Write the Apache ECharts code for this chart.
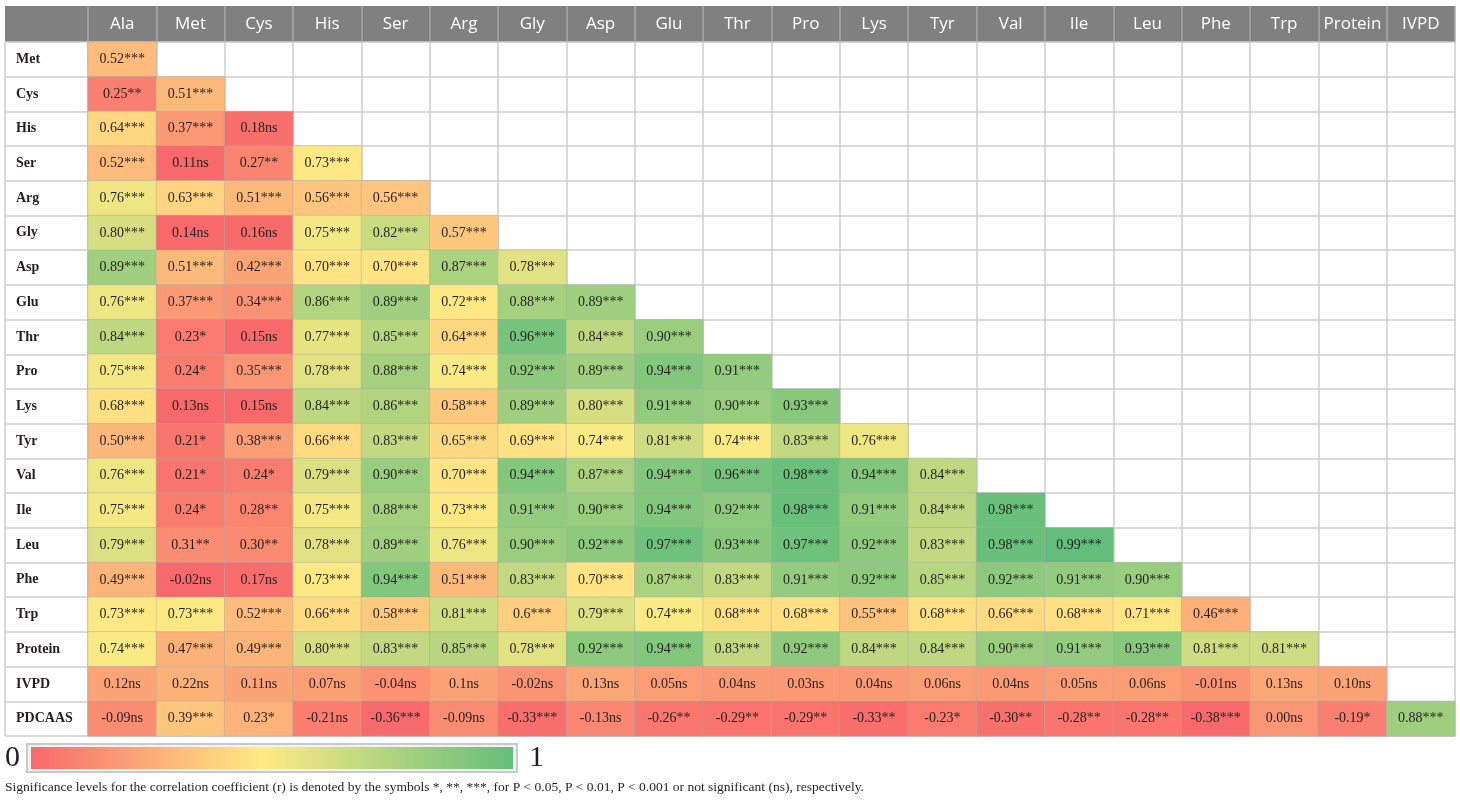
<!DOCTYPE html>
<html>
<head>
<meta charset="utf-8">
<script src="https://cdn.jsdelivr.net/npm/echarts@6/dist/echarts.min.js"></script>
<style>
    html, body { margin: 0; padding: 0; background: #fff; }
    #chart { width: 1460px; height: 801px; }
</style>
</head>
<body>
<div id="chart"></div>
<script>
// Correlation matrix (lower triangle)

const columns = ['Ala', 'Met', 'Cys', 'His', 'Ser', 'Arg', 'Gly', 'Asp', 'Glu', 'Thr',
    'Pro', 'Lys', 'Tyr', 'Val', 'Ile', 'Leu', 'Phe', 'Trp', 'Protein', 'IVPD'];

const rows = ['Met', 'Cys', 'His', 'Ser', 'Arg', 'Gly', 'Asp', 'Glu', 'Thr', 'Pro',
    'Lys', 'Tyr', 'Val', 'Ile', 'Leu', 'Phe', 'Trp', 'Protein', 'IVPD', 'PDCAAS'];

// r value + significance mark, one list per row
const correlations = [
    ['0.52***'],
    ['0.25**', '0.51***'],
    ['0.64***', '0.37***', '0.18ns'],
    ['0.52***', '0.11ns', '0.27**', '0.73***'],
    ['0.76***', '0.63***', '0.51***', '0.56***', '0.56***'],
    ['0.80***', '0.14ns', '0.16ns', '0.75***', '0.82***', '0.57***'],
    ['0.89***', '0.51***', '0.42***', '0.70***', '0.70***', '0.87***', '0.78***'],
    ['0.76***', '0.37***', '0.34***', '0.86***', '0.89***', '0.72***', '0.88***', '0.89***'],
    ['0.84***', '0.23*', '0.15ns', '0.77***', '0.85***', '0.64***', '0.96***', '0.84***', '0.90***'],
    ['0.75***', '0.24*', '0.35***', '0.78***', '0.88***', '0.74***', '0.92***', '0.89***', '0.94***', '0.91***'],
    ['0.68***', '0.13ns', '0.15ns', '0.84***', '0.86***', '0.58***', '0.89***', '0.80***', '0.91***', '0.90***', '0.93***'],
    ['0.50***', '0.21*', '0.38***', '0.66***', '0.83***', '0.65***', '0.69***', '0.74***', '0.81***', '0.74***', '0.83***', '0.76***'],
    ['0.76***', '0.21*', '0.24*', '0.79***', '0.90***', '0.70***', '0.94***', '0.87***', '0.94***', '0.96***', '0.98***', '0.94***', '0.84***'],
    ['0.75***', '0.24*', '0.28**', '0.75***', '0.88***', '0.73***', '0.91***', '0.90***', '0.94***', '0.92***', '0.98***', '0.91***', '0.84***', '0.98***'],
    ['0.79***', '0.31**', '0.30**', '0.78***', '0.89***', '0.76***', '0.90***', '0.92***', '0.97***', '0.93***', '0.97***', '0.92***', '0.83***', '0.98***', '0.99***'],
    ['0.49***', '-0.02ns', '0.17ns', '0.73***', '0.94***', '0.51***', '0.83***', '0.70***', '0.87***', '0.83***', '0.91***', '0.92***', '0.85***', '0.92***', '0.91***', '0.90***'],
    ['0.73***', '0.73***', '0.52***', '0.66***', '0.58***', '0.81***', '0.6***', '0.79***', '0.74***', '0.68***', '0.68***', '0.55***', '0.68***', '0.66***', '0.68***', '0.71***', '0.46***'],
    ['0.74***', '0.47***', '0.49***', '0.80***', '0.83***', '0.85***', '0.78***', '0.92***', '0.94***', '0.83***', '0.92***', '0.84***', '0.84***', '0.90***', '0.91***', '0.93***', '0.81***', '0.81***'],
    ['0.12ns', '0.22ns', '0.11ns', '0.07ns', '-0.04ns', '0.1ns', '-0.02ns', '0.13ns', '0.05ns', '0.04ns', '0.03ns', '0.04ns', '0.06ns', '0.04ns', '0.05ns', '0.06ns', '-0.01ns', '0.13ns', '0.10ns'],
    ['-0.09ns', '0.39***', '0.23*', '-0.21ns', '-0.36***', '-0.09ns', '-0.33***', '-0.13ns', '-0.26**', '-0.29**', '-0.29**', '-0.33**', '-0.23*', '-0.30**', '-0.28**', '-0.28**', '-0.38***', '0.00ns', '-0.19*', '0.88***']
];

const footnote = 'Significance levels for the correlation coefficient (r) is denoted by the symbols *, **, ***, for P < 0.05, P < 0.01, P < 0.001 or not significant (ns), respectively.';

const RED = '#F8696B', YELLOW = '#FFEB84', GREEN = '#63BE7B';
const SERIF = 'Liberation Serif';

function clamp01(t) { return Math.max(0, Math.min(1, t)); }

// 3-colour scale with the yellow at `mid` (like a spreadsheet colour scale)
function ramp(min, mid, max) {
    var out = [];
    for (var i = 0; i <= 40; i++) {
        var v = min + (max - min) * i / 40;
        if (v <= mid) out.push(echarts.color.lerp(clamp01((v - min) / (mid - min)), [RED, YELLOW]));
        else out.push(echarts.color.lerp(clamp01((v - mid) / (max - mid)), [YELLOW, GREEN]));
    }
    return out;
}

function cells(from, to) {
    var data = [];
    for (var r = from; r < to; r++) {
        correlations[r].forEach(function (s, c) {
            data.push({ name: s, value: [c, r, parseFloat(s)] });
        });
    }
    return data;
}

var cellSeries = {
    type: 'heatmap',
    xAxisIndex: 1,
    yAxisIndex: 1,
    label: {
        show: true,
        formatter: function (p) { return p.name; },
        color: '#231f20',
        fontFamily: SERIF,
        fontSize: 14
    },
    itemStyle: { borderColor: 'rgba(170,170,170,0.45)', borderWidth: 1 },
    emphasis: { disabled: true }
};

var grid = { top: 42, bottom: 65 };
var lineStyle = { color: '#cdcdcd', width: 1.5 };

var chart = echarts.init(document.querySelector('#chart'));
chart.setOption({
    animation: false,
    grid: [
        { left: 5, width: 83, top: grid.top, bottom: grid.bottom },
        { left: 88, right: 5, top: grid.top, bottom: grid.bottom }
    ],
    xAxis: [
        {
            gridIndex: 0, type: 'category', data: [''], position: 'top',
            axisLine: { show: false }, axisTick: { show: false }, axisLabel: { show: false },
            splitLine: { show: true, lineStyle: lineStyle }
        },
        {
            gridIndex: 1, type: 'category', data: columns, position: 'top',
            axisLine: { show: false },
            axisTick: { show: true, length: 36, interval: 0, lineStyle: { color: '#a9a9a9', width: 1.5 } },
            axisLabel: { color: '#fff', fontFamily: 'Open Sans', fontSize: 17, margin: 9, interval: 0 },
            splitLine: { show: true, interval: 0, lineStyle: lineStyle }
        }
    ],
    yAxis: [
        {
            gridIndex: 0, type: 'category', data: rows, inverse: true,
            axisLine: { show: false }, axisTick: { show: false },
            axisLabel: {
                inside: true, margin: 11, interval: 0,
                color: '#231f20', fontFamily: SERIF, fontWeight: 'bold', fontSize: 14
            },
            splitLine: { show: true, interval: 0, lineStyle: lineStyle }
        },
        {
            gridIndex: 1, type: 'category', data: rows, inverse: true,
            axisLine: { show: false }, axisTick: { show: false }, axisLabel: { show: false },
            splitLine: { show: true, interval: 0, lineStyle: lineStyle }
        }
    ],
    visualMap: [
        {
            type: 'continuous', show: false, seriesIndex: 0, dimension: 2,
            min: 0.15, max: 0.99, inRange: { color: ramp(0.15, 0.73, 0.99) }
        },
        {
            type: 'continuous', show: false, seriesIndex: 1, dimension: 2,
            min: -0.38, max: 0.99, inRange: { color: ramp(-0.38, 0.70, 0.99) }
        }
    ],
    graphic: [
        {
            type: 'rect', z: -10, silent: true,
            shape: { x: 5, y: 6, width: 1450, height: 36 },
            style: { fill: '#808080' }
        },
        {
            type: 'rect', silent: true,
            shape: { x: 27, y: 744, width: 490, height: 28 },
            style: { fill: '#f2f2f2', stroke: '#c9c9c9', lineWidth: 2 }
        },
        {
            type: 'rect', silent: true,
            shape: { x: 31, y: 747, width: 482, height: 22 },
            style: {
                fill: {
                    type: 'linear', x: 0, y: 0, x2: 1, y2: 0,
                    colorStops: [
                        { offset: 0, color: RED },
                        { offset: 0.48, color: YELLOW },
                        { offset: 1, color: GREEN }
                    ]
                }
            }
        },
        {
            type: 'text', silent: true, left: 5, top: 743,
            style: { text: '0', fontFamily: SERIF, fontSize: 30, fill: '#231f20' }
        },
        {
            type: 'text', silent: true, left: 529, top: 743,
            style: { text: '1', fontFamily: SERIF, fontSize: 30, fill: '#231f20' }
        },
        {
            type: 'text', silent: true, left: 5, top: 780,
            style: { text: footnote, fontFamily: SERIF, fontSize: 13.5, fill: '#231f20' }
        }
    ],
    series: [
        Object.assign({}, cellSeries, { data: cells(0, 18) }),
        Object.assign({}, cellSeries, { data: cells(18, 20) }),
        { type: 'scatter', xAxisIndex: 0, yAxisIndex: 0, data: [] }
    ]
});
</script>
</body>
</html>
